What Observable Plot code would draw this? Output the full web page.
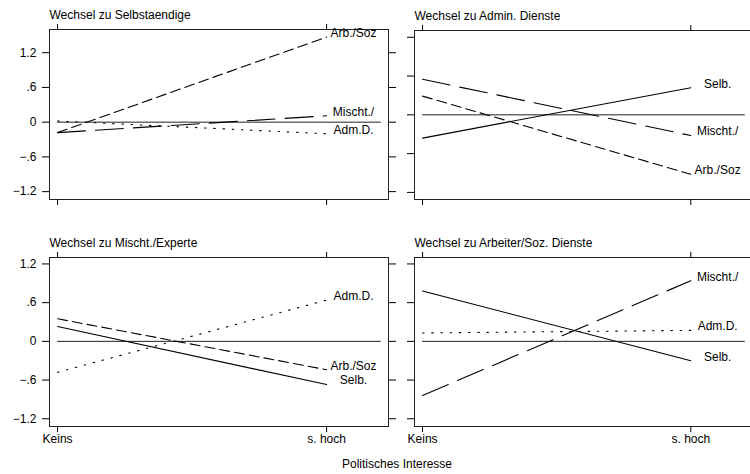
<!DOCTYPE html>
<html><head><meta charset="utf-8">
<script src="https://cdn.jsdelivr.net/npm/d3@7"></script>
<script src="https://cdn.jsdelivr.net/npm/@observablehq/plot@0.6"></script>
<style>
body{margin:0;background:#fff;overflow:hidden;}
#chart{position:relative;width:750px;height:474px;font-family:"Liberation Sans",Arial,sans-serif;color:#000;}
#xtitle{position:absolute;left:0;width:794px;top:457px;line-height:14px;text-align:center;font-size:12px;}
</style></head><body><div id="chart"><div id="xtitle">Politisches Interesse</div></div>
<script>
// x categories
const xPos = [0, 1];
const xLabels = ["Keins", "s. hoch"];
// y ticks
const yTicks = [-1.2, -0.6, 0, 0.6, 1.2];
const yTickLabels = ["\u22121.2", "\u2212.6", "0", ".6", "1.2"];
// panel titles
const panelTitles = ["Wechsel zu Selbstaendige", "Wechsel zu Admin. Dienste", "Wechsel zu Mischt./Experte", "Wechsel zu Arbeiter/Soz. Dienste"];
// series per panel: names, value at "Keins", value at "s. hoch"
const selbNames = ["Arb./Soz", "Mischt./", "Adm.D."];
const selbKeins = [-0.18, -0.18, 0.02];
const selbHoch  = [1.47, 0.11, -0.20];

const adminNames = ["Selb.", "Mischt./", "Arb./Soz"];
const adminKeins = [-0.36, 0.55, 0.29];
const adminHoch  = [0.42, -0.32, -0.92];

const mischtNames = ["Adm.D.", "Arb./Soz", "Selb."];
const mischtKeins = [-0.48, 0.35, 0.23];
const mischtHoch  = [0.64, -0.44, -0.67];

const arbNames = ["Mischt./", "Adm.D.", "Selb."];
const arbKeins = [-0.84, 0.13, 0.78];
const arbHoch  = [0.94, 0.17, -0.30];

// line style per destination group
const dashes = {"Selb.": null, "Mischt./": "28,10", "Arb./Soz": "10,5", "Adm.D.": "1.5,7.7"};
const zeroLineEnd = 1.2;
const labelX = 1.1;

function panel(cfg) {
  const {title, names, keins, hoch, yDomain, left, top, width, height, mL, mR, mT, mB, showX, showY} = cfg;
  const empty = () => "";
  const marks = [
    Plot.frame({stroke: "#222"}),
    Plot.line([{x: 0, y: 0}, {x: zeroLineEnd, y: 0}], {x: "x", y: "y", stroke: "#222", strokeWidth: 1}),
  ];
  names.forEach((n, i) => {
    const opts = {x: "x", y: "y", stroke: "#000", strokeWidth: 1.1};
    if (dashes[n]) opts.strokeDasharray = dashes[n];
    marks.push(Plot.line([{x: xPos[0], y: keins[i]}, {x: xPos[1], y: hoch[i]}], opts));
  });
  marks.push(Plot.text(names.map((n, i) => ({n, x: labelX, y: hoch[i]})), {x: "x", y: "y", text: "n", dy: -4, textAnchor: "middle", fill: "#000"}));
  marks.push(Plot.text([title], {text: d => d, frameAnchor: "top-left", dy: -14, textAnchor: "start", lineAnchor: "middle", fill: "#000"}));
  marks.push(Plot.axisY({anchor: "left", ticks: yTicks, tickSize: 7, tickPadding: 6, label: null,
    tickFormat: showY ? (d => yTickLabels[yTicks.indexOf(d)]) : empty}));
  marks.push(Plot.axisY({anchor: "right", ticks: yTicks, tickSize: 7, label: null, tickFormat: empty}));
  marks.push(Plot.axisX({anchor: "bottom", ticks: xPos, tickSize: 6, tickPadding: 2, label: null,
    tickFormat: showX ? (d => xLabels[xPos.indexOf(d)]) : empty}));
  marks.push(Plot.axisX({anchor: "top", ticks: xPos, tickSize: 6, label: null, tickFormat: empty}));
  const svg = Plot.plot({
    width, height, marginLeft: mL, marginRight: mR, marginTop: mT, marginBottom: mB,
    x: {domain: [-0.03, 1.23]},
    y: {domain: yDomain},
    style: {position: "absolute", left: left + "px", top: top + "px", background: "transparent",
      overflow: "visible", fontFamily: '"Liberation Sans", Arial, sans-serif', fontSize: "12px", color: "#000", maxWidth: "none"},
    marks
  });
  document.getElementById("chart").appendChild(svg);
}

panel({title: panelTitles[0], names: selbNames, keins: selbKeins, hoch: selbHoch, yDomain: [-1.336, 1.601],
  left: 0, top: 0, width: 400, height: 215, mL: 49, mR: 12, mT: 29, mB: 16, showX: false, showY: true});
panel({title: panelTitles[1], names: adminNames, keins: adminKeins, hoch: adminHoch, yDomain: [-1.31, 1.305],
  left: 370, top: 0, width: 385, height: 215, mL: 44, mR: 3, mT: 30, mB: 16, showX: false, showY: false});
panel({title: panelTitles[2], names: mischtNames, keins: mischtKeins, hoch: mischtHoch, yDomain: [-1.32, 1.30],
  left: 0, top: 230, width: 400, height: 244, mL: 49, mR: 12, mT: 27, mB: 48, showX: true, showY: true});
panel({title: panelTitles[3], names: arbNames, keins: arbKeins, hoch: arbHoch, yDomain: [-1.32, 1.30],
  left: 370, top: 230, width: 385, height: 244, mL: 44, mR: 3, mT: 27, mB: 48, showX: true, showY: false});
</script>
</body></html>
